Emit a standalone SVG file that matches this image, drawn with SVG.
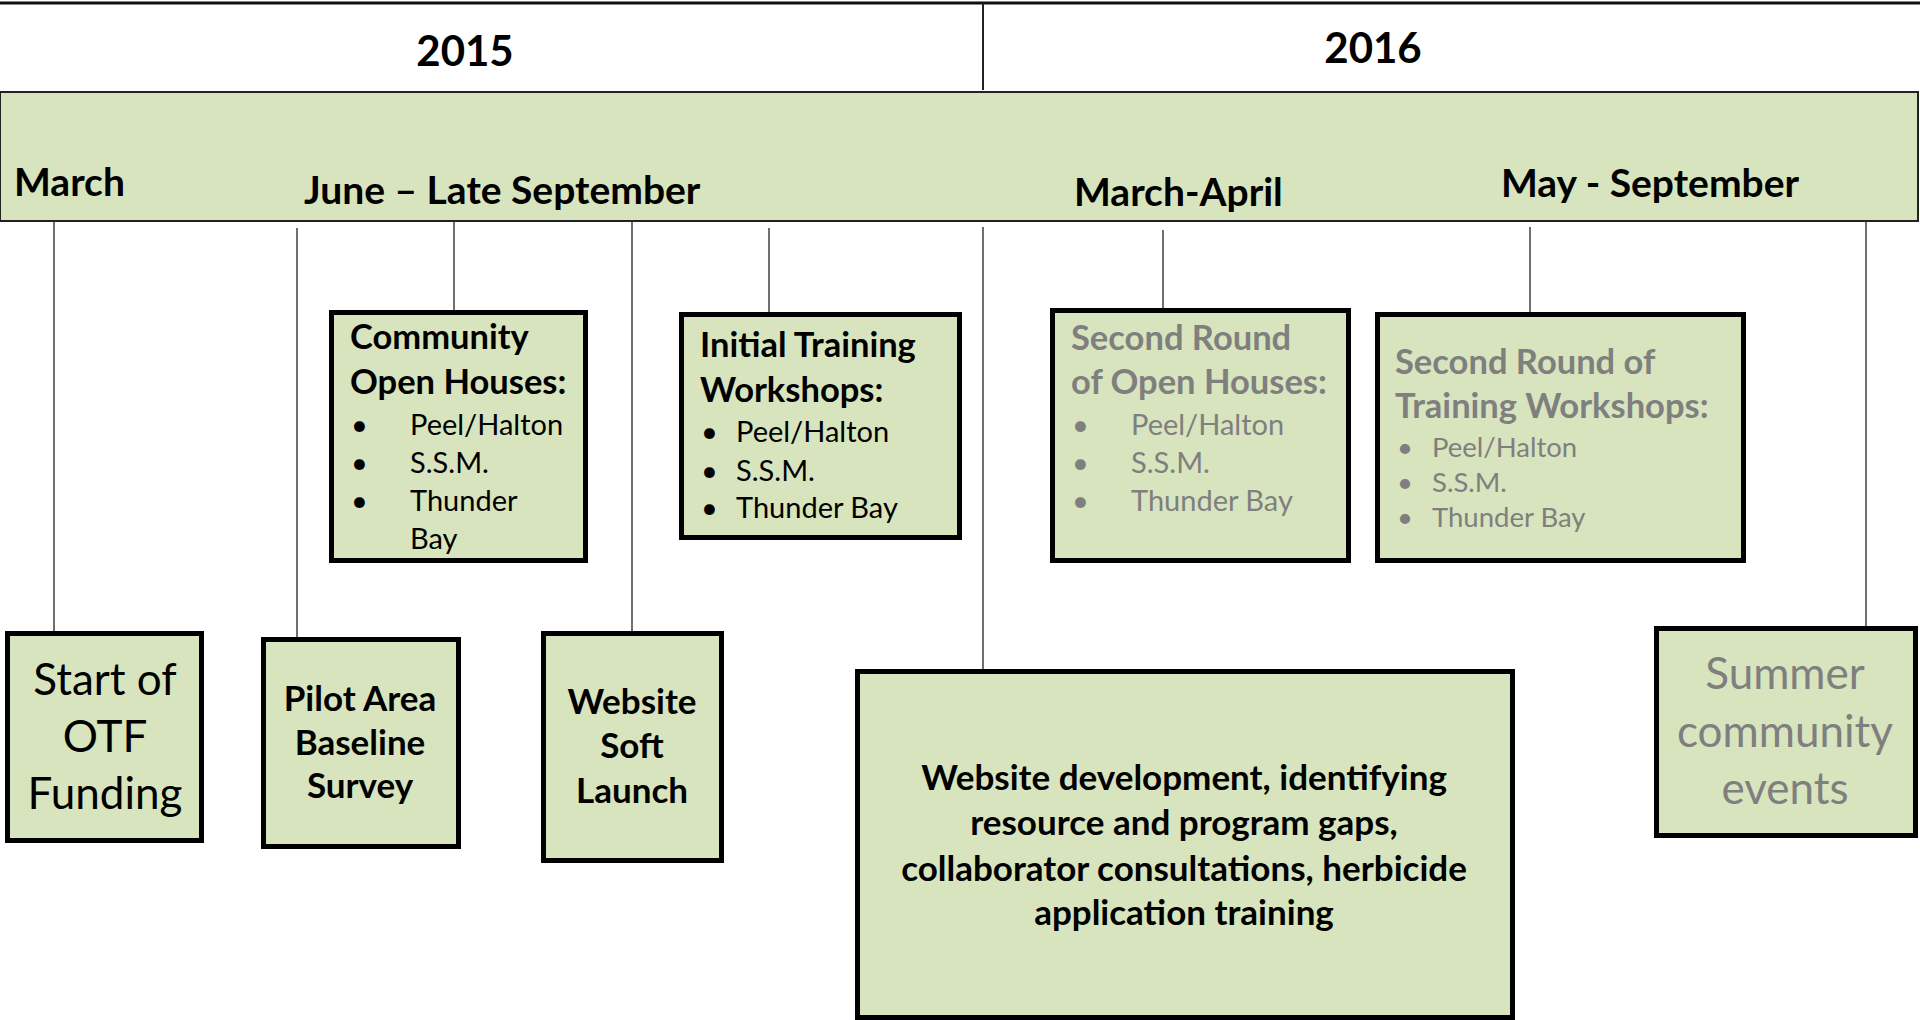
<svg xmlns="http://www.w3.org/2000/svg" width="1920" height="1020" viewBox="0 0 1920 1020">
<style>
.box{fill:#d7e4bd;stroke:#000;stroke-width:5}
.conn line{stroke:#333;stroke-width:1.4}
text{font-family:Lato,"Open Sans","Liberation Sans",sans-serif}
.yr{font-size:42px;font-weight:bold;fill:#000;text-anchor:middle}
.band{font-size:39px;font-weight:bold;fill:#000}
.ttl{font-size:34.5px;font-weight:bold;fill:#000}
.ttlg{font-size:34.5px;font-weight:bold;fill:#7f7f7f}
.bul{font-size:29px;fill:#000}
.bulg{font-size:29px;fill:#7f7f7f}
.bulg2{font-size:27.5px;fill:#7f7f7f}
.big{font-size:44px;fill:#000;text-anchor:middle}
.bigg{font-size:44px;fill:#7f7f7f;text-anchor:middle}
.mid{font-size:35px;font-weight:bold;fill:#000;text-anchor:middle}
</style>
<rect width="1920" height="1020" fill="#fff"/>
<g id="header">
<line x1="0" y1="3" x2="1920" y2="3" stroke="#111" stroke-width="3"/>
<line x1="983" y1="3" x2="983" y2="90" stroke="#222" stroke-width="2"/>
<text class="yr" x="465" y="66">2015</text>
<text class="yr" x="1373" y="63">2016</text>
</g>
<g id="band">
<rect x="0" y="92" width="1918" height="129" fill="#d7e4bd" stroke="#222" stroke-width="2"/>
<text class="band" x="14" y="196">March</text>
<text class="band" x="304" y="204">June – Late September</text>
<text class="band" x="1074" y="206">March-April</text>
<text class="band" x="1501" y="197">May - September</text>
</g>
<g id="connectors" class="conn">
<line x1="54" y1="221" x2="54" y2="632"/>
<line x1="297" y1="228" x2="297" y2="638"/>
<line x1="454" y1="221" x2="454" y2="311"/>
<line x1="632" y1="221" x2="632" y2="632"/>
<line x1="769" y1="228" x2="769" y2="313"/>
<line x1="983" y1="227" x2="983" y2="670"/>
<line x1="1163" y1="230" x2="1163" y2="309"/>
<line x1="1530" y1="227" x2="1530" y2="313"/>
<line x1="1866" y1="221" x2="1866" y2="627"/>
</g>
<g id="community-open-houses">
<rect class="box" x="331.5" y="312.5" width="254" height="248"/>
<text class="ttl" x="350" y="349">Community</text>
<text class="ttl" x="350" y="394">Open Houses:</text>
<text class="bul" x="351" y="435">•</text><text class="bul" x="410" y="435">Peel/Halton</text>
<text class="bul" x="351" y="473">•</text><text class="bul" x="410" y="473">S.S.M.</text>
<text class="bul" x="351" y="511">•</text><text class="bul" x="410" y="511">Thunder</text>
<text class="bul" x="410" y="549">Bay</text>
</g>
<g id="initial-training">
<rect class="box" x="681.5" y="314.5" width="278" height="223"/>
<text class="ttl" x="700" y="357">Initial Training</text>
<text class="ttl" x="700" y="402">Workshops:</text>
<text class="bul" x="701" y="442">•</text><text class="bul" x="736" y="442">Peel/Halton</text>
<text class="bul" x="701" y="481">•</text><text class="bul" x="736" y="481">S.S.M.</text>
<text class="bul" x="701" y="518">•</text><text class="bul" x="736" y="518">Thunder Bay</text>
</g>
<g id="second-open-houses">
<rect class="box" x="1052.5" y="310.5" width="296" height="250"/>
<text class="ttlg" x="1071" y="350">Second Round</text>
<text class="ttlg" x="1071" y="394">of Open Houses:</text>
<text class="bulg" x="1072" y="435">•</text><text class="bulg" x="1131" y="435">Peel/Halton</text>
<text class="bulg" x="1072" y="473">•</text><text class="bulg" x="1131" y="473">S.S.M.</text>
<text class="bulg" x="1072" y="511">•</text><text class="bulg" x="1131" y="511">Thunder Bay</text>
</g>
<g id="second-training">
<rect class="box" x="1377.5" y="314.5" width="366" height="246"/>
<text class="ttlg" x="1395" y="374">Second Round of</text>
<text class="ttlg" x="1395" y="418">Training Workshops:</text>
<text class="bulg2" x="1397" y="457">•</text><text class="bulg2" x="1432" y="457">Peel/Halton</text>
<text class="bulg2" x="1397" y="492">•</text><text class="bulg2" x="1432" y="492">S.S.M.</text>
<text class="bulg2" x="1397" y="527">•</text><text class="bulg2" x="1432" y="527">Thunder Bay</text>
</g>
<g id="start-otf">
<rect class="box" x="7.5" y="633.5" width="194" height="207"/>
<text class="big" x="105" y="695">Start of</text>
<text class="big" x="105" y="752">OTF</text>
<text class="big" x="105" y="809">Funding</text>
</g>
<g id="pilot-area">
<rect class="box" x="263.5" y="639.5" width="195" height="207"/>
<text class="mid" x="360" y="711">Pilot Area</text>
<text class="mid" x="360" y="755">Baseline</text>
<text class="mid" x="360" y="798">Survey</text>
</g>
<g id="website-soft-launch">
<rect class="box" x="543.5" y="633.5" width="178" height="227"/>
<text class="mid" x="632" y="714">Website</text>
<text class="mid" x="632" y="758">Soft</text>
<text class="mid" x="632" y="803">Launch</text>
</g>
<g id="website-development">
<rect class="box" x="857.5" y="671.5" width="655" height="346"/>
<text class="mid" x="1184" y="790">Website development, identifying</text>
<text class="mid" x="1184" y="835">resource and program gaps,</text>
<text class="mid" x="1184" y="881">collaborator consultations, herbicide</text>
<text class="mid" x="1184" y="925">application training</text>
</g>
<g id="summer-events">
<rect class="box" x="1656.5" y="628.5" width="259" height="207"/>
<text class="bigg" x="1785" y="689">Summer</text>
<text class="bigg" x="1785" y="747">community</text>
<text class="bigg" x="1785" y="804">events</text>
</g>
</svg>
